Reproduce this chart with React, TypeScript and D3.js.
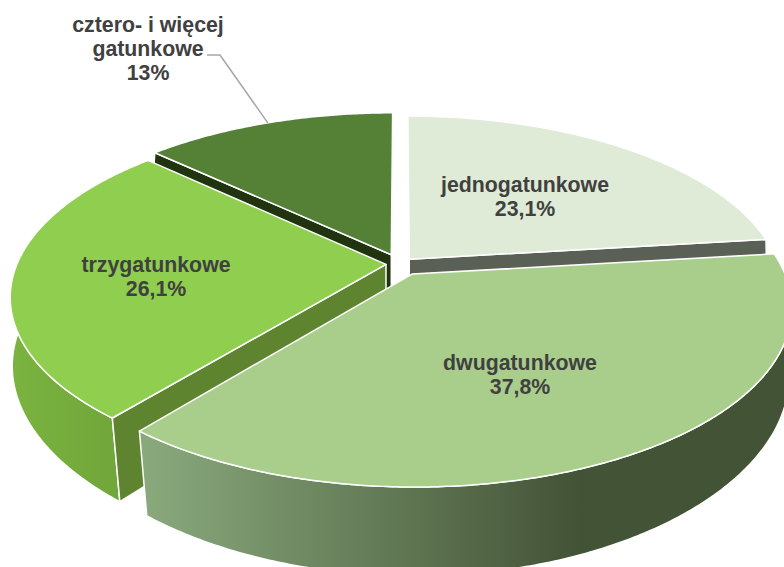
import * as d3 from "d3";

const names = ["jednogatunkowe", "dwugatunkowe", "trzygatunkowe", "cztero- i więcej gatunkowe"];
const values = [23.1, 37.8, 26.1, 13];
const valueLabels = ["23,1%", "37,8%", "26,1%", "13%"];
// how far each slice is pulled out of the pie, as a share of the radius
const explosion = [0.038, 0.067, 0.038, 0.06];
const topColors = ["#dfebd6", "#a9ce8c", "#8fce4e", "#548135"];
const faceColors = ["#5a6055", "#43533a", "#5e8430", "#20340f"];
const drawOrder = [3, 0, 2, 1];

const width = 784;
const height = 567;

// the projection of the tilted pie
const cx = 400;
const cy = 264;
const rx = 369;
const ry = 170.5;
const persp = 0.18;
// wall height and how much the walls lean in towards the front
const wallHeight = 72;
const lean = 0.16;

type Pt = [number, number];

const pie = d3.pie<number>().sort(null).value((d) => d);
const arcs = pie(values);

const lineGen = d3.line<Pt>();

const project = (x: number, y: number): Pt => {
  const w = 1 + persp * y;
  return [cx + (rx * x) / w, cy - (ry * y) / w];
};

const projectFloor = (x: number, y: number): Pt => {
  const w = 1 + persp * y;
  const [sx, sy] = project(x, y);
  const s = 1 - lean * (1 / w - 1);
  return [cx + (sx - cx) * s, sy + wallHeight / w];
};

const slices = arcs.map((a, i) => {
  const mid = (a.startAngle + a.endAngle) / 2;
  const ox = explosion[i] * Math.sin(mid);
  const oy = explosion[i] * Math.cos(mid);
  const plane = (angle: number, r: number): Pt => [
    ox + r * Math.sin(angle),
    oy + r * Math.cos(angle),
  ];
  const at = (angle: number, r: number) => project(...plane(angle, r));
  const floorAt = (angle: number, r: number) => projectFloor(...plane(angle, r));
  const angles = [...d3.range(a.startAngle, a.endAngle, 0.01), a.endAngle];
  const rim = angles.map((t) => at(t, 1));
  const floorRim = angles.map((t) => floorAt(t, 1));
  const apex = at(0, 0);
  const floorApex = floorAt(0, 0);
  const last = rim.length - 1;
  return {
    mid,
    at,
    top: lineGen([apex, ...rim])! + "Z",
    wall: lineGen([...rim, ...floorRim.slice().reverse()])! + "Z",
    startFace: lineGen([apex, rim[0], floorRim[0], floorApex])! + "Z",
    endFace: lineGen([apex, rim[last], floorRim[last], floorApex])! + "Z",
    // a cut face only shows when it turns towards the viewer
    showStart: Math.sin(a.startAngle) < 0,
    showEnd: Math.sin(a.endAngle) > 0,
  };
});

const labelX = [525, 520, 156];
const labelY = [192, 370, 272];
const fontFamily = '"Liberation Sans", Arial, sans-serif';

const App = () => {
  const leaderEnd = slices[3].at(slices[3].mid, 1);
  const leader: Pt[] = [[207, 55], [220, 55], leaderEnd];

  return (
    <svg
      width={width}
      height={height}
      style={{ position: "absolute", left: 0, top: 0, background: "#fff" }}
    >
      <defs>
        <linearGradient id="wall0" gradientUnits="userSpaceOnUse" x1={400} x2={780} y1={0} y2={0}>
          <stop offset="0" stopColor="#b5c3aa" />
          <stop offset="1" stopColor="#5a6055" />
        </linearGradient>
        <linearGradient id="wall1" gradientUnits="userSpaceOnUse" x1={140} x2={580} y1={0} y2={0}>
          <stop offset="0" stopColor="#8aaa7d" />
          <stop offset="1" stopColor="#435336" />
        </linearGradient>
        <linearGradient id="wall2" gradientUnits="userSpaceOnUse" x1={14} x2={125} y1={0} y2={0}>
          <stop offset="0" stopColor="#7ab33f" />
          <stop offset="1" stopColor="#70a53a" />
        </linearGradient>
        <linearGradient id="wall3" gradientUnits="userSpaceOnUse" x1={150} x2={395} y1={0} y2={0}>
          <stop offset="0" stopColor="#3f6a22" />
          <stop offset="1" stopColor="#20340f" />
        </linearGradient>
      </defs>

      {drawOrder.map((idx) => {
        const s = slices[idx];
        return (
          <g key={names[idx]} stroke="#fff" strokeWidth={1.5} strokeLinejoin="round">
            <path d={s.wall} fill={`url(#wall${idx})`} />
            {s.showEnd && <path d={s.endFace} fill={faceColors[idx]} />}
            {s.showStart && <path d={s.startFace} fill={faceColors[idx]} />}
            <path d={s.top} fill={topColors[idx]} />
          </g>
        );
      })}

      <path d={lineGen(leader)!} fill="none" stroke="#a6a6a6" strokeWidth={1.5} />

      <g
        fontFamily={fontFamily}
        fontSize={21.3}
        fontWeight="bold"
        fill="#404040"
        textAnchor="middle"
      >
        {labelX.map((x, i) => (
          <text key={names[i]} x={x} y={labelY[i]}>
            <tspan x={x}>{names[i]}</tspan>
            <tspan x={x} dy={23.5}>
              {valueLabels[i]}
            </tspan>
          </text>
        ))}
        <text x={148} y={32}>
          <tspan x={148}>cztero- i więcej</tspan>
          <tspan x={148} dy={24}>
            gatunkowe
          </tspan>
          <tspan x={148} dy={24}>
            {valueLabels[3]}
          </tspan>
        </text>
      </g>
    </svg>
  );
};

export default App;
